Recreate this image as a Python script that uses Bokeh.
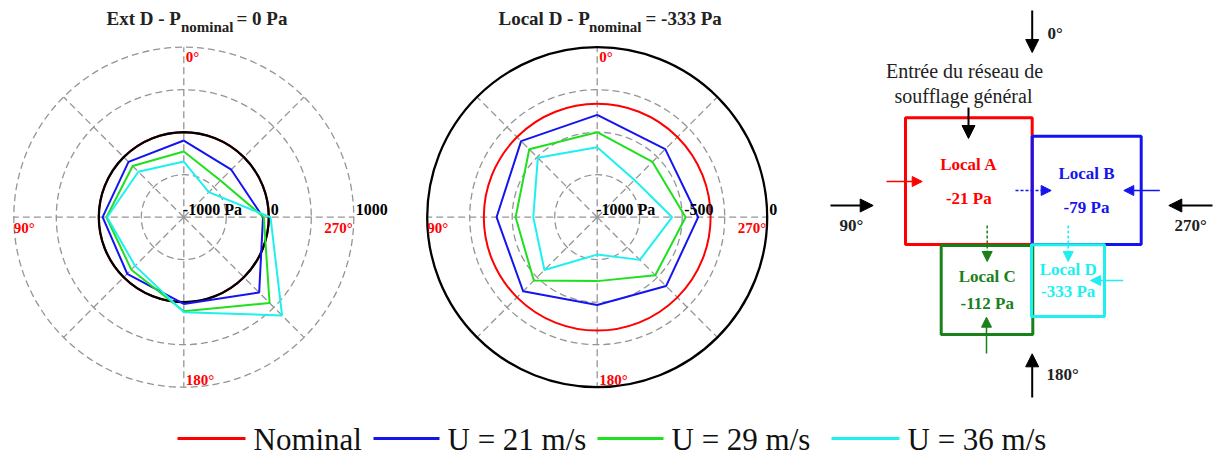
import numpy as np
from bokeh.plotting import figure
from bokeh.models import Range1d, Arrow, NormalHead
from bokeh.core.properties import value
from bokeh.embed import file_html
from bokeh.resources import INLINE

# ---------------- data ----------------
angles_deg = [0, 45, 90, 135, 180, 225, 270, 315]

series_names = ["Nominal", "U = 21 m/s", "U = 29 m/s", "U = 36 m/s"]
series_colors = ["#ff0000", "#1414f0", "#1ee01e", "#1ef0f0"]

# Ext D (nominal 0 Pa), radial axis -1000 .. 1000 Pa
ext_title = ["Ext D - P", "nominal", "= 0 Pa"]
ext_nominal = 0
ext_u21 = [-98, -80, -45, -59, 20, 254, -68, -210]
ext_u29 = [-227, -149, -90, -127, 106, 427, -59, -390]
ext_u36 = [-345, -243, -98, -190, 118, 635, 20, -584]
ext_rmin, ext_rmax = -1000, 1000
ext_rgrid = [-500, 0, 500, 1000]
ext_rlabels = ["-1000 Pa", "0", "1000"]
ext_rlabel_vals = [-1000, 0, 1000]

# Local D (nominal -333 Pa), radial axis -1000 .. 0 Pa
loc_title = ["Local D - P", "nominal", "= -333 Pa"]
loc_nominal = -333
loc_u21 = [-398, -367, -408, -384, -484, -427, -406, -434]
loc_u29 = [-500, -435, -520, -473, -624, -517, -480, -540]
loc_u36 = [-588, -506, -624, -561, -780, -645, -559, -690]
loc_rmin, loc_rmax = -1000, 0
loc_rgrid = [-750, -500, -250]
loc_rlabels = ["-1000 Pa", "-500", "0"]
loc_rlabel_vals = [-1000, -500, 0]

angle_labels = ["0°", "90°", "180°", "270°"]

# schematic
rooms = ["Local A", "Local B", "Local C", "Local D"]
room_pressures = [-21, -79, -112, -333]
room_colors = ["#ff0000", "#1414f0", "#1a801a", "#1ef0f0"]

# ---------------- figure ----------------
W, H = 1215, 459
p = figure(width=W, height=H, x_range=Range1d(0, W), y_range=Range1d(H, 0),
           output_backend="svg", toolbar_location=None, x_axis_type=None, y_axis_type=None,
           min_border=0, outline_line_color=None)
p.grid.visible = False
p.background_fill_color = "white"

SERIF = value("Liberation Serif")
R = 170.0
GRAY = "#959595"


def txt(x, y, s, size, color="#222222", bold=True, align="left"):
    p.text(x=[x], y=[y], text=[s], text_font=SERIF, text_font_style="bold" if bold else "normal",
           text_font_size=size, text_color=color, text_align=align, text_baseline="middle")


def to_xy(cx, cy, vals, rmin, rmax, angs):
    vals = np.asarray(vals, dtype=float)
    th = np.deg2rad(np.asarray(angs, dtype=float))
    r = (vals - rmin) / (rmax - rmin) * R
    return cx - r * np.sin(th), cy - r * np.cos(th)


def polar(cx, cy, rmin, rmax, rgrid, nominal, data, rlabels, rlabel_vals, title, title_x):
    rr = [(g - rmin) / (rmax - rmin) * R for g in rgrid]
    p.circle(x=[cx] * len(rr), y=[cy] * len(rr), radius=rr, fill_color=None,
             line_color=GRAY, line_dash="7 4", line_width=1.3)
    for a in range(0, 360, 45):
        xs, ys = to_xy(cx, cy, [rmin, rmax], rmin, rmax, [a, a])
        p.line(xs, ys, line_color=GRAY, line_dash="7 4", line_width=1.3)
    rn = (nominal - rmin) / (rmax - rmin) * R
    p.circle(x=[cx], y=[cy], radius=[rn], fill_color=None, line_color=series_colors[0], line_width=2)
    r0 = (0 - rmin) / (rmax - rmin) * R
    p.circle(x=[cx], y=[cy], radius=[r0], fill_color=None, line_color="black", line_width=2.3)
    for vals, col in zip(data, series_colors[1:]):
        xs, ys = to_xy(cx, cy, list(vals) + [vals[0]], rmin, rmax, angles_deg + [angles_deg[0]])
        p.line(xs, ys, line_color=col, line_width=2)
    for lab, v in zip(rlabels, rlabel_vals):
        r = (v - rmin) / (rmax - rmin) * R
        off = -1 if r == 0 else 2
        txt(cx + r + off, cy - 8, lab, "16px", "black")
    txt(cx + 2, cy - 160, angle_labels[0], "15px", "#ff0000")
    txt(cx - 170, cy + 11, angle_labels[1], "15px", "#ff0000")
    txt(cx + 2, cy + 163, angle_labels[2], "15px", "#ff0000")
    txt(cx + 169, cy + 11, angle_labels[3], "15px", "#ff0000", align="right")
    txt(title_x[0], 17.5, title[0], "19px")
    txt(title_x[1], 26, title[1], "15px")
    txt(title_x[2], 17.5, title[2], "19px")


polar(183.3, 216.7, ext_rmin, ext_rmax, ext_rgrid, ext_nominal, [ext_u21, ext_u29, ext_u36],
      ext_rlabels, ext_rlabel_vals, ext_title, [106, 180.5, 236])
polar(596.7, 216.7, loc_rmin, loc_rmax, loc_rgrid, loc_nominal, [loc_u21, loc_u29, loc_u36],
      loc_rlabels, loc_rlabel_vals, loc_title, [498, 588.5, 645])

# ---------------- schematic ----------------
boxes = [(905, 1031.7, 117.3, 244), (1031.7, 1140.7, 135.7, 244),
         (940.7, 1032.3, 245, 334), (1031, 1104, 244.3, 316)]
for (l, r, t, b), col in zip(boxes, room_colors):
    p.quad(left=[l], right=[r], top=[t], bottom=[b], fill_color=None, line_color=col, line_width=3)

name_pos = [(968.3, 164.3), (1086, 173.3), (986.7, 276), (1067.7, 269.3)]
pres_pos = [(968.3, 197.7), (1086, 206.7), (986.7, 302.7), (1067.7, 290.7)]
for name, pr, col, (nx, ny), (px_, py_) in zip(rooms, room_pressures, room_colors, name_pos, pres_pos):
    txt(nx, ny, name, "17px", col, align="center")
    txt(px_, py_, f"{pr} Pa", "17px", col, align="center")

txt(964, 70, "Entrée du réseau de", "20px", bold=False, align="center")
txt(963, 95, "soufflage général", "20px", bold=False, align="center")


def arrow(x0, y0, x1, y1, col, w=2.0, hs=13, dash="solid"):
    p.add_layout(Arrow(end=NormalHead(size=hs, fill_color=col, line_color=col, line_width=1),
                       x_start=x0, y_start=y0, x_end=x1, y_end=y1,
                       line_color=col, line_width=w, line_dash=dash))


arrow(1031.7, 10, 1031.7, 52, "black")
arrow(968, 107, 968, 138, "black")
arrow(830, 205, 872.7, 205, "black")
arrow(1212, 205, 1168.3, 205, "black")
arrow(1031.7, 397, 1031.7, 353.3, "black")
arrow(886, 181, 921.7, 181, room_colors[0], 1.5, 10)
arrow(1015, 190, 1050.7, 190, room_colors[1], 1.5, 10, "3 2")
arrow(1159.3, 190, 1123.3, 190, room_colors[1], 1.5, 10)
arrow(986.7, 225, 986.7, 261, room_colors[2], 1.5, 10, "3 2")
arrow(1067.7, 225, 1067.7, 261, room_colors[3], 1.5, 10, "3 2")
arrow(1122.7, 280, 1090, 280, room_colors[3], 1.5, 10)
arrow(986, 353, 986, 316.7, room_colors[2], 1.5, 10)

for lab, (lx, ly) in zip(angle_labels, [(1047, 32.5), (839, 225), (1046, 373.5), (1174, 225)]):
    txt(lx, ly, lab, "17px")

# ---------------- legend ----------------
leg_line_x = [(177, 245), (373, 439), (597, 663), (831, 899)]
for name, col, (a, b) in zip(series_names, series_colors, leg_line_x):
    p.line([a, b], [438, 438], line_color=col, line_width=3)
    txt(b + 8, 439, name, "31px", "#111111", bold=False)

open("out.html", "w").write(file_html(p, INLINE))
